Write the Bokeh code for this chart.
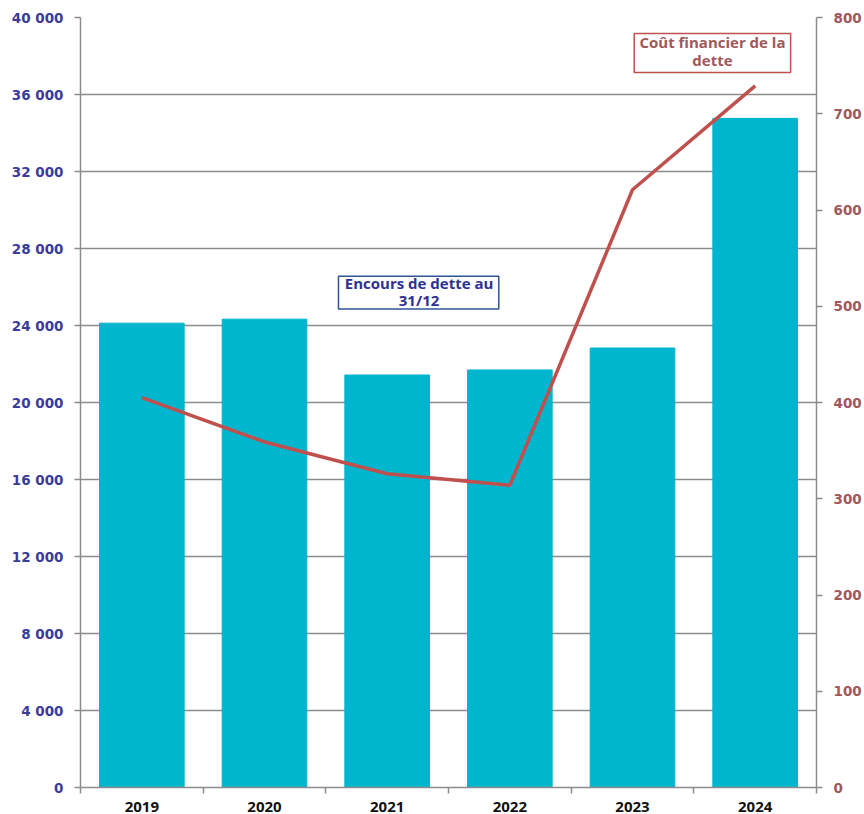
from bokeh.plotting import figure
from bokeh.models import Range1d, LinearAxis, FixedTicker, CustomJSTickFormatter, Label, ColumnDataSource, BoxAnnotation
from bokeh.embed import file_html
from bokeh.resources import INLINE

years = ["2019", "2020", "2021", "2022", "2023", "2024"]
encours = [24120, 24330, 21430, 21690, 22830, 34760]
cout = [405, 359, 326, 314, 621, 729]
left_ticks = [0, 4000, 8000, 12000, 16000, 20000, 24000, 28000, 32000, 36000, 40000]
right_ticks = [0, 100, 200, 300, 400, 500, 600, 700, 800]

xs = [i + 0.5 for i in range(len(years))]
src = ColumnDataSource(dict(x=xs, encours=encours, cout=cout, year=years))

p = figure(width=864, height=814, output_backend="svg", toolbar_location=None,
           x_range=Range1d(0, len(years)), y_range=Range1d(0, 40000),
           min_border_left=80, min_border_right=45, min_border_top=17, min_border_bottom=26)
p.outline_line_color = None
p.extra_y_ranges = {"right": Range1d(0, 800)}

p.vbar(x="x", top="encours", width=0.69, source=src, color="#00B5CE")
p.line(x="x", y="cout", source=src, y_range_name="right", line_color="#C0504D", line_width=3.5)

grey = "#8C8C8C"
# bottom axis
xa = p.xaxis[0]
xa.ticker = FixedTicker(ticks=xs, minor_ticks=list(range(len(years) + 1)))
xa.formatter = CustomJSTickFormatter(args=dict(labels=years), code="return labels[Math.floor(tick)];")
xa.major_tick_out = 0
xa.major_tick_in = 0
xa.minor_tick_out = 6
xa.minor_tick_in = 0
xa.minor_tick_line_color = grey
xa.axis_line_color = grey
xa.axis_line_width = 1.5
xa.minor_tick_line_width = 1.5
xa.major_label_text_font = "Open Sans"
xa.major_label_text_font_style = "bold"
xa.major_label_text_font_size = "15px"
xa.major_label_text_color = "#111111"
xa.major_label_standoff = 8

# left axis
ya = p.yaxis[0]
ya.ticker = FixedTicker(ticks=left_ticks)
ya.formatter = CustomJSTickFormatter(code="return tick.toFixed(0).replace(/\\B(?=(\\d{3})+(?!\\d))/g, ' ');")
ya.major_tick_out = 6
ya.major_tick_in = 0
ya.minor_tick_out = 0
ya.minor_tick_in = 0
ya.axis_line_color = grey
ya.axis_line_width = 1.5
ya.major_tick_line_color = grey
ya.major_tick_line_width = 1.5
ya.major_label_text_font = "DejaVu Sans"
ya.major_label_text_font_style = "bold"
ya.major_label_text_font_size = "13.5px"
ya.major_label_text_color = "#3B3B9C"
ya.major_label_standoff = 11

# right axis
ra = LinearAxis(y_range_name="right", ticker=FixedTicker(ticks=right_ticks))
ra.major_tick_out = 6
ra.major_tick_in = 0
ra.minor_tick_out = 0
ra.minor_tick_in = 0
ra.axis_line_color = grey
ra.axis_line_width = 1.5
ra.major_tick_line_color = grey
ra.major_tick_line_width = 1.5
ra.major_label_text_font = "DejaVu Sans"
ra.major_label_text_font_style = "bold"
ra.major_label_text_font_size = "13.5px"
ra.major_label_text_color = "#A0585A"
ra.major_label_standoff = 11
p.add_layout(ra, "right")

p.xgrid.grid_line_color = None
p.ygrid.ticker = FixedTicker(ticks=left_ticks)
p.ygrid.grid_line_color = grey
p.ygrid.grid_line_width = 1.5

box1 = BoxAnnotation(left=2.103, right=3.410, bottom=24851, top=26563, fill_color="white", fill_alpha=1,
                     line_color="#2F5597", line_width=1.5, line_alpha=1)
box2 = BoxAnnotation(left=4.514, right=5.789, bottom=742.9, top=783.4, y_range_name="right",
                     fill_color="white", fill_alpha=1, line_color="#C0504D", line_width=1.5, line_alpha=1)
lab1 = Label(x=2.760, y=25780, text="Encours de dette au\n31/12", text_align="center", text_baseline="middle",
             text_font="Open Sans", text_font_style="bold", text_font_size="15px", text_color="#2E3192",
             text_line_height=0.85)
lab2 = Label(x=5.152, y=765, y_range_name="right", text="Coût financier de la\ndette", text_align="center",
             text_baseline="middle", text_font="Open Sans", text_font_style="bold", text_font_size="15px",
             text_color="#A0585A", text_line_height=0.9)
p.add_layout(box1)
p.add_layout(box2)
p.add_layout(lab1)
p.add_layout(lab2)

open("out.html", "w").write(file_html(p, INLINE))
